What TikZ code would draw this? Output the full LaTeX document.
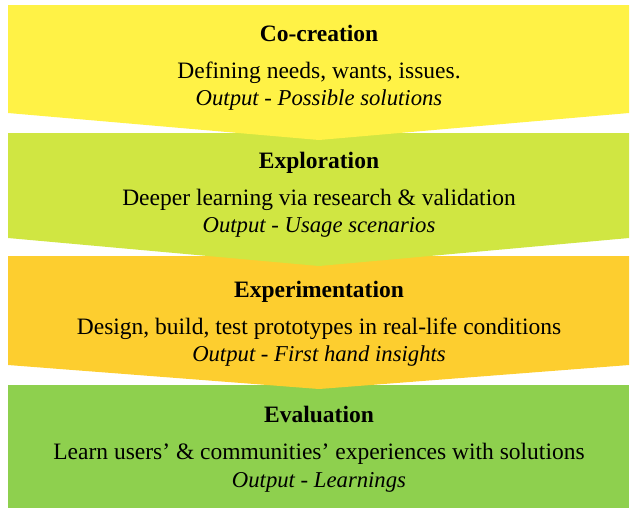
\documentclass[tikz,border=0pt]{standalone}
\usepackage{fontspec}
\setmainfont{Liberation Serif}
\definecolor{cyellow}{RGB}{255,242,70}
\definecolor{clime}{RGB}{208,230,66}
\definecolor{corange}{RGB}{253,206,47}
\definecolor{cgreen}{RGB}{142,208,78}
\tikzset{
  band/.style={fill=#1, draw=none},
  ttl/.style={anchor=base, inner sep=0pt, font=\fontsize{23.5}{27}\selectfont\bfseries},
  txt/.style={anchor=base, inner sep=0pt, font=\fontsize{23.5}{27}\selectfont},
  outp/.style={anchor=base, inner sep=0pt, font=\fontsize{22.7}{27}\selectfont\itshape}
}
\begin{document}
\begin{tikzpicture}[x=1pt,y=-1pt]
\useasboundingbox (0,0) rectangle (631,509);
% bands, bottom first so each tip overlaps the next band
\fill[band=cgreen] (8,385) -- (629,385) -- (629,508) -- (8,508) -- cycle;
\fill[band=corange] (8,256) -- (629,256) -- (629,365) -- (319,389) -- (8,365) -- cycle;
\fill[band=clime] (8,133) -- (629,133) -- (629,238) -- (319,266) -- (8,238) -- cycle;
\fill[band=cyellow] (8,5) -- (629,5) -- (629,113) -- (319,140) -- (8,113) -- cycle;
% texts
\node[ttl] (t1) at (319,41) {Co-creation};
\node[txt] (d1) at (319,78) {Defining needs, wants, issues.};
\node[outp] (o1) at (319,105) {Output - Possible solutions};
\node[ttl] (t2) at (319,168) {Exploration};
\node[txt] (d2) at (319,205) {Deeper learning via research \& validation};
\node[outp] (o2) at (319,232) {Output - Usage scenarios};
\node[ttl] (t3) at (319,297) {Experimentation};
\node[txt] (d3) at (319,334) {Design, build, test prototypes in real-life conditions};
\node[outp] (o3) at (319,361) {Output - First hand insights};
\node[ttl] (t4) at (319,422) {Evaluation};
\node[txt] (d4) at (319,459) {Learn users’ \& communities’ experiences with solutions};
\node[outp] (o4) at (319,487) {Output - Learnings};
\end{tikzpicture}
\end{document}
